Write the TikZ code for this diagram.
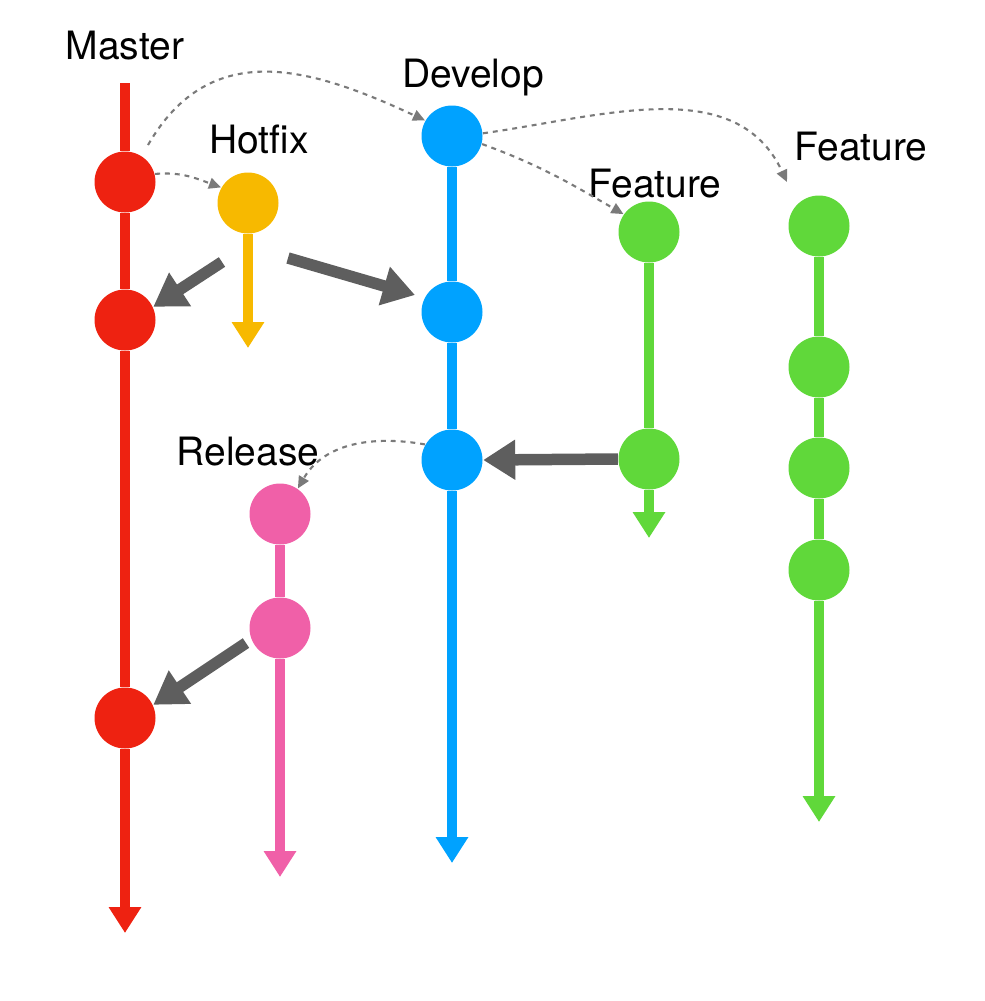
\documentclass[tikz,border=0pt]{standalone}
\usepackage{fontspec}
\setmainfont{TeX Gyre Heros}
\usetikzlibrary{calc,arrows.meta}
\definecolor{mred}{HTML}{EE2211}
\definecolor{hyel}{HTML}{F7B900}
\definecolor{dblue}{HTML}{00A2FF}
\definecolor{fgreen}{HTML}{60D83A}
\definecolor{rpink}{HTML}{F060A8}
\definecolor{mgray}{HTML}{5E5E5E}
\definecolor{fgray}{HTML}{7A7A7A}
\tikzstyle{cmt}=[shape=circle, minimum size=6.1mm, inner sep=0]
\tikzstyle{branch}=[line width=0.95mm, -{Triangle[length=2.6mm,width=3.1mm]}]
\tikzstyle{mrg}=[line width=1.15mm, draw=mgray, -{Triangle[length=3.2mm,width=3.8mm]}]
\tikzstyle{forkedge}=[line width=0.6pt, draw=fgray, dash pattern=on 1.4pt off 1.4pt, -{Triangle[length=1.2mm,width=1.1mm]}]
\tikzstyle{lbl}=[anchor=base, inner sep=0, font=\fontsize{11.1}{13}\selectfont]

\begin{document}
\begin{tikzpicture}
\useasboundingbox (0,0) rectangle (9.85,-10.01);
% master
\coordinate (mtop) at (1.25,-0.83);
\node at (1.25,-1.82)[cmt, fill=mred](m1){};
\node at (1.25,-3.20)[cmt, fill=mred](m2){};
\node at (1.25,-7.18)[cmt, fill=mred](m3){};
\coordinate (mend) at (1.25,-9.33);
% hotfix
\node at (2.48,-2.03)[cmt, fill=hyel](h1){};
\coordinate (hend) at (2.48,-3.48);
% develop
\node at (4.52,-1.36)[cmt, fill=dblue](d1){};
\node at (4.52,-3.12)[cmt, fill=dblue](d2){};
\node at (4.52,-4.60)[cmt, fill=dblue](d3){};
\coordinate (dend) at (4.52,-8.63);
% features
\node at (6.49,-2.32)[cmt, fill=fgreen](f1){};
\node at (6.49,-4.59)[cmt, fill=fgreen](f2){};
\coordinate (fend) at (6.49,-5.38);
\node at (8.19,-2.26)[cmt, fill=fgreen](g1){};
\node at (8.19,-3.67)[cmt, fill=fgreen](g2){};
\node at (8.19,-4.68)[cmt, fill=fgreen](g3){};
\node at (8.19,-5.70)[cmt, fill=fgreen](g4){};
\coordinate (gend) at (8.19,-8.22);
% release
\node at (2.80,-5.14)[cmt, fill=rpink](r1){};
\node at (2.80,-6.28)[cmt, fill=rpink](r2){};
\coordinate (rend) at (2.80,-8.77);
% labels
\node at (1.25,-0.59)[lbl](tmaster){Master};
\node at (2.59,-1.53)[lbl](thotfix){Hotfix};
\node at (4.73,-0.87)[lbl](tdevelop){Develop};
\node at (6.55,-1.97)[lbl](tfeat){Feature};
\node at (8.61,-1.60)[lbl](tfeatb){Feature};
\node at (2.48,-4.65)[lbl](trelease){Release};
% branch lines
\draw[branch, mred] (mtop)--(m1)--(m2)--(m3)--(mend);
\draw[branch, hyel] (h1)--(hend);
\draw[branch, dblue] (d1)--(d2)--(d3)--(dend);
\draw[branch, fgreen] (f1)--(f2)--(fend);
\draw[branch, fgreen] (g1)--(g2)--(g3)--(g4)--(gend);
\draw[branch, rpink] (r1)--(r2)--(rend);
% forks
\draw[forkedge] ($(m1)+(0.23,0.37)$) to[out=60,in=155,looseness=1.15] (d1.150);
\draw[forkedge] (m1.15) to[out=5,in=160] (h1.150);
\draw[forkedge] (d1.5) to[out=8,in=115] ($(g1)+(-0.32,0.44)$);
\draw[forkedge] (d1.-15) to[out=-20,in=150] (f1.145);
\draw[forkedge] (d3.150) to[out=170,in=60] (r1.55);
% merges
\draw[mrg] ($(h1)+(-0.26,-0.59)$)--(m2.25);
\draw[mrg] ($(h1)+(0.40,-0.55)$)--($(d2)+(-0.37,0.17)$);
\draw[mrg] (f2.west)--(d3.east);
\draw[mrg] ($(r2)+(-0.34,-0.15)$)--(m3.25);
\end{tikzpicture}
\end{document}
